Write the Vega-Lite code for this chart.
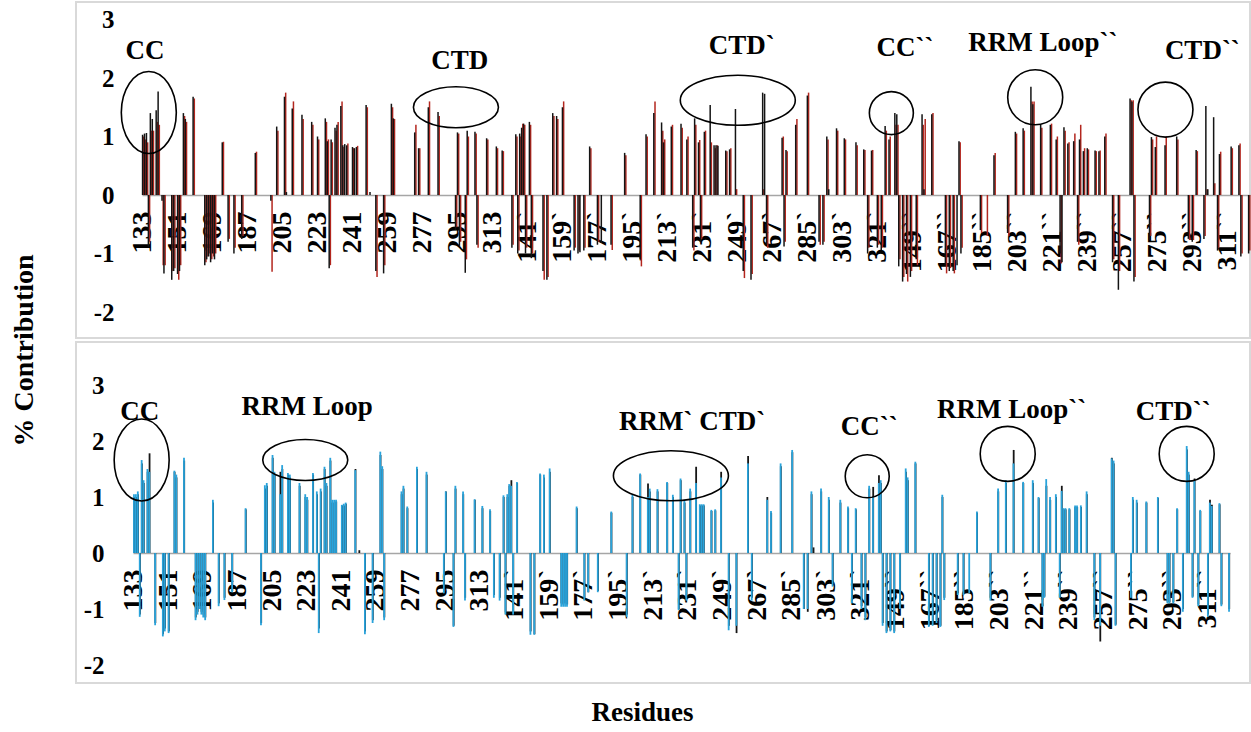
{
"$schema":"https://vega.github.io/schema/vega-lite/v6.json",
"padding":{"left":9,"top":1,"right":0,"bottom":0},
"background":"white",
"config":{"font":"Liberation Serif","view":{"stroke":"#d9d9d9","strokeWidth":2},"axis":{"grid":false,"ticks":false,"tickSize":0,"labelColor":"black","labelFontWeight":"bold","titleColor":"black","titleFontWeight":"bold","zindex":1}},
"datasets":{
"res":[
{"r":"133","k":1.03,"e":1.0,"b":1.05,"c":1.0},{"r":"134","k":1.05,"e":0.95,"b":1.05,"c":1.0},{"r":"135","k":1.06,"e":0.9,"b":1.1,"c":1.05},{"r":"136","k":-0.88,"e":-0.8,"b":-1.14,"c":-1.1},{"r":"137","k":1.4,"e":1.1,"b":1.66,"c":1.6},{"r":"138","k":1.3,"e":1.1,"b":1.3,"c":1.25},{"r":"140","k":1.45,"e":1.25,"b":1.5,"c":1.45},{"r":"141","k":1.77,"e":1.2,"b":1.45,"c":1.78},{"r":"143","k":-0.1,"e":-1.2},{"r":"144","k":-1.34,"e":-1.2,"b":-1.29,"c":-1.25},{"r":"148","k":-1.45,"e":-1.3,"b":-1.49,"c":-1.45},{"r":"149","k":-1.3,"e":-1.25,"b":-1.4,"c":-1.35},{"r":"151","k":-1.35,"e":-1.45,"b":-1.43,"c":-1.4},{"r":"152","k":-1.3,"e":-1.2},{"r":"154","k":1.4,"e":1.35,"b":1.47,"c":1.45},{"r":"155","k":1.3,"e":1.25,"b":1.4,"c":1.35},{"r":"159","k":1.68,"e":1.65,"b":1.7,"c":1.65},{"r":"165","k":-1.2,"e":-1.15,"b":-1.2,"c":-1.15},{"r":"166","k":-1.1,"e":-1.05,"b":-1.1,"c":-1.05},{"r":"167","k":-1.05,"e":-1.0,"b":-1.0,"c":-1.0},{"r":"168","k":-1.15,"e":-1.1,"b":-1.1,"c":-1.05},{"r":"169","k":-1.0,"e":-1.05,"b":-1.15,"c":-1.1},{"r":"170","k":-1.1,"e":-1.0,"b":-1.2,"c":-1.15},{"r":"174","k":0.9,"e":0.91,"b":0.95,"c":0.9},{"r":"177","k":-0.8,"e":-0.75,"b":-0.95,"c":-0.9},{"r":"180","k":-1.0,"e":-0.9,"b":-0.84,"c":-0.8},{"r":"184","k":-0.75,"e":-0.7,"b":-0.7,"c":-0.68},{"r":"191","k":0.72,"e":0.74,"b":0.8,"c":0.78},{"r":"199","k":-0.1,"e":-1.31,"b":-1.29,"c":-1.25},{"r":"201","b":1.21,"c":1.15},{"r":"202","k":1.17,"e":1.1,"b":1.25,"c":1.2},{"r":"205","b":1.75,"c":1.7},{"r":"206","k":1.68,"e":1.75,"b":1.45,"c":1.4},{"r":"207","k":0.05},{"r":"209","b":1.05,"c":1.45},{"r":"210","k":1.48,"e":1.6,"b":1.57,"c":1.5},{"r":"213","b":1.43,"c":1.4},{"r":"214","b":1.4,"c":1.35},{"r":"215","k":1.37,"e":1.3},{"r":"219","b":1.25,"c":1.2},{"r":"220","k":1.25,"e":1.2},{"r":"222","b":1.05,"c":1.0},{"r":"223","k":1.0,"e":0.95,"b":1.0,"c":0.95},{"r":"226","b":1.43,"c":1.4},{"r":"227","k":1.31,"e":1.25},{"r":"228","k":0.92,"e":0.95,"b":1.1,"c":1.05},{"r":"229","k":-1.25,"e":-1.2,"b":-1.43,"c":-1.35},{"r":"230","k":0.95,"e":0.9,"b":1.15,"c":1.1},{"r":"232","k":1.15,"e":1.1,"b":1.54,"c":1.5},{"r":"233","k":1.2,"e":1.25,"b":1.25,"c":1.2},{"r":"235","k":1.52,"e":1.6,"b":1.7,"c":1.65},{"r":"236","k":0.85,"e":0.82,"b":0.95,"c":0.9},{"r":"237","k":0.87,"b":0.95,"c":0.9},{"r":"238","k":0.85,"e":0.88,"b":0.95,"c":0.92},{"r":"241","k":0.82,"e":0.8,"b":0.86,"c":0.85},{"r":"242","k":0.8,"b":0.88,"c":0.85},{"r":"243","k":0.82,"e":0.84,"b":0.9,"c":0.88},{"r":"248","k":1.54,"e":1.5,"b":1.48,"c":1.5},{"r":"250","k":0.05,"c":0.05},{"r":"253","k":-1.3,"e":-1.4,"b":-1.45,"c":-1.4},{"r":"257","k":-1.34,"e":-1.2,"b":-1.25,"c":-1.2},{"r":"261","k":1.56,"e":1.5,"b":1.81,"c":1.75},{"r":"262","k":1.31,"e":1.3,"b":1.55,"c":1.5},{"r":"263","b":-1.2,"c":-1.15},{"r":"272","b":1.1,"c":1.05},{"r":"273","k":1.07,"e":1.2,"b":1.2,"c":1.15},{"r":"275","k":0.8,"e":0.8,"b":0.83,"c":0.8},{"r":"280","k":1.5,"e":1.6,"b":1.54,"c":1.5},{"r":"285","k":1.42,"e":1.35,"b":1.45,"c":1.4},{"r":"294","k":-0.6,"e":-0.55,"b":-0.72,"c":-0.7},{"r":"295","k":1.07,"e":1.05,"b":1.1,"c":1.1},{"r":"296","k":-0.87,"e":-0.8},{"r":"299","k":-1.33,"e":-1.1,"b":-1.32,"c":-1.3},{"r":"300","k":1.1,"e":1.0,"b":1.2,"c":1.15},{"r":"304","k":1.08,"e":1.05,"b":1.1,"c":1.05},{"r":"305","k":-0.85,"e":-0.9,"b":-0.85,"c":-0.8},{"r":"310","k":0.97,"e":0.95,"b":0.96,"c":0.95},{"r":"314","b":0.84,"c":0.8},{"r":"315","k":0.83,"e":0.8},{"r":"318","k":0.76,"e":0.75,"b":0.78,"c":0.75},{"r":"320","b":-0.8,"c":-0.75},
{"r":"133`","k":-0.9,"e":-0.85,"b":-0.85,"c":-0.8},{"r":"135`","k":1.04,"e":1.0,"b":1.03,"c":1.0},{"r":"136`","k":-1.0,"e":-0.95,"b":-1.1,"c":-1.05},{"r":"137`","k":1.05,"e":1.0,"b":1.05,"c":1.0},{"r":"138`","k":1.15,"e":1.22,"b":1.23,"c":1.2},{"r":"139`","k":1.22,"e":1.2,"b":1.2,"c":1.3},{"r":"140`","k":-1.0,"e":-0.9,"b":-1.1,"c":-1.05},{"r":"142`","k":1.25,"e":1.2,"b":1.27,"c":1.25},{"r":"143`","k":-1.08,"e":-1.0},{"r":"149`","k":-1.3,"e":-1.45,"b":-1.46,"c":-1.4},{"r":"151`","k":-1.45,"e":-1.4,"b":-1.46,"c":-1.45},{"r":"154`","k":1.4,"e":1.35,"b":1.42,"c":1.4},{"r":"156`","k":1.35,"e":1.3,"b":1.4,"c":1.35},{"r":"159`","k":1.5,"e":1.6,"b":1.51,"c":1.45},{"r":"165`","k":-0.95,"e":-0.9,"b":-0.96,"c":-0.9},{"r":"166`","b":-0.96,"c":-0.92},{"r":"167`","k":-1.0,"e":-0.95,"b":-0.96,"c":-0.9},{"r":"168`","k":-0.98,"b":-0.96,"c":-0.92},{"r":"170`","k":-0.95,"e":-0.9},{"r":"173`","k":0.83,"e":0.8,"b":0.83,"c":0.8},{"r":"177`","k":-0.85,"e":-0.8,"b":-0.85,"c":-0.8},{"r":"179`","k":-0.82,"b":-0.7,"c":-0.7},{"r":"184`","k":-0.85,"e":-0.94,"b":-0.7,"c":-0.68},{"r":"191`","k":0.72,"e":0.68,"b":0.74,"c":0.72},{"r":"199`","k":-1.1,"e":-1.22,"b":-1.14,"c":-1.1},{"r":"202`","k":1.04,"e":1.0,"b":1.04,"c":1.0},{"r":"206`","k":1.4,"e":1.6,"b":1.42,"c":1.4},{"r":"210`","k":1.24,"e":1.1,"b":1.0,"c":1.24},{"r":"211`","k":0.9,"e":0.95,"b":1.15,"c":1.1},{"r":"215`","k":1.17,"e":1.2,"b":1.14,"c":1.1},{"r":"220`","k":1.22,"e":1.15,"b":1.27,"c":1.25},{"r":"223`","k":0.95,"e":1.0,"b":1.04,"c":1.0},{"r":"226`","k":-0.9,"e":-0.95,"b":-1.02,"c":-1.0},{"r":"227`","k":1.31,"e":1.2,"b":1.33,"c":1.3},{"r":"229`","k":0.9,"e":0.94,"b":0.95,"c":0.9},{"r":"230`","k":-0.8,"e":-0.75,"b":-0.85,"c":-0.8},{"r":"232`","k":1.08,"e":1.1,"b":1.15,"c":1.1},{"r":"235`","k":1.54,"e":0.9,"b":1.25,"c":1.54},{"r":"237`","k":0.85,"e":0.8,"b":0.87,"c":0.85},{"r":"238`","k":0.85,"e":0.85,"b":0.87,"c":0.85},{"r":"239`","k":0.84,"b":0.87,"c":0.85},{"r":"243`","k":0.76,"e":0.75,"b":0.77,"c":0.75},{"r":"245`","k":0.78,"e":0.8,"b":0.78,"c":0.76},{"r":"248`","k":1.47,"e":0.1,"b":1.35,"c":1.45},{"r":"252`","k":-1.3,"e":-1.42,"b":-1.38,"c":-1.3},{"r":"256`","k":-1.45,"e":-1.35,"b":-1.3,"c":-1.43},{"r":"262`","k":1.75,"e":0.1,"b":1.6,"c":1.73},{"r":"263`","k":1.73},{"r":"264`","k":-0.85,"e":-0.9,"b":-0.85,"c":-0.8},{"r":"272`","k":0.98,"e":1.0,"b":0.95,"c":1.0},{"r":"273`","k":-0.88,"e":-0.8},{"r":"274`","k":0.77,"e":0.75,"b":0.75,"c":0.72},{"r":"279`","k":1.2,"e":1.3,"b":1.6,"c":1.55},{"r":"285`","k":1.7,"e":1.75,"b":1.84,"c":1.8},{"r":"291`","k":-0.8,"e":-0.85,"b":-1.0,"c":-1.0},{"r":"293`","k":-0.85,"e":-0.8,"b":-1.0,"c":-1.05},{"r":"295`","k":1.0,"e":0.95,"b":1.1,"c":1.05},{"r":"296`","k":0.1,"c":0.1},{"r":"300`","k":1.14,"e":1.1,"b":1.15,"c":1.1},{"r":"304`","k":0.97,"e":0.95,"b":1.0,"c":0.95},{"r":"306`","b":-0.6,"c":-0.55},{"r":"310`","k":0.9,"e":0.85,"b":0.95,"c":0.9},{"r":"314`","k":0.78,"e":0.77,"b":0.83,"c":0.8},{"r":"316`","k":-1.0,"e":-0.9,"b":-0.9,"c":-0.85},{"r":"318`","k":0.76,"e":0.77,"b":0.8,"c":0.78},{"r":"321`","k":-0.9,"e":-0.85,"b":-1.0,"c":-0.95},
{"r":"133``","k":-0.94,"e":-0.9,"b":-1.2,"c":-1.15},{"r":"135``","k":1.18,"e":1.1,"b":1.2,"c":1.15},{"r":"137``","k":0.95,"e":1.0,"b":1.0,"c":1.18},{"r":"140``","k":1.4,"e":1.2,"b":1.25,"c":1.39},{"r":"141``","k":1.38,"e":1.2,"b":1.3,"c":1.25},{"r":"142``","k":-1.22,"e":-1.1,"b":-1.3,"c":-1.25},{"r":"144``","k":-1.48,"e":-1.4,"b":-1.43,"c":-1.4},{"r":"146``","k":-1.35,"e":-1.48,"b":-1.4,"c":-1.38},{"r":"148``","k":-1.4,"e":-1.3,"b":-1.43,"c":-1.4},{"r":"151``","k":-1.1,"e":-1.2,"b":-1.0,"c":-0.95},{"r":"154``","k":1.38,"e":1.2,"b":1.51,"c":1.45},{"r":"155``","k":0.1,"e":1.3,"b":1.35,"c":1.3},{"r":"159``","k":1.38,"e":1.4,"b":1.63,"c":1.6},{"r":"166``","k":-1.2,"e":-1.34,"b":-1.32,"c":-1.3},{"r":"168``","k":-1.3,"e":-1.25,"b":-1.3,"c":-1.28},{"r":"170``","k":-1.3,"e":-1.34,"b":-1.25,"c":-1.2},{"r":"172``","k":-1.2,"b":-1.32,"c":-1.3},{"r":"173``","k":0.92,"e":0.9,"b":1.04,"c":1.0},{"r":"174``","k":-1.0,"e":-0.9,"b":-0.84,"c":-0.8},{"r":"181``","b":-0.75,"c":-0.72},{"r":"184``","k":-0.6,"e":-0.65,"b":-0.75,"c":-0.72},{"r":"187``","e":-0.7,"b":-0.72},{"r":"191``","k":0.68,"e":0.72,"b":0.74,"c":0.72},{"r":"198``","k":-0.65,"e":-0.7,"b":-0.85,"c":-0.8},{"r":"202``","k":1.08,"e":1.05,"b":1.15,"c":1.1},{"r":"206``","k":1.14,"e":1.1,"b":1.3,"c":1.25},{"r":"210``","k":1.85,"e":1.6,"b":1.6,"c":1.84},{"r":"211``","k":1.55,"e":1.6},{"r":"215``","k":1.2,"e":1.15,"b":1.27,"c":1.25},{"r":"220``","k":1.2,"e":1.22,"b":1.3,"c":1.25},{"r":"223``","k":0.95,"e":1.0,"b":1.0,"c":0.98},{"r":"225``","k":-1.0,"e":-1.17,"b":-0.96,"c":-0.95},{"r":"226``","k":-1.15,"b":-0.8,"c":-0.78},{"r":"227``","k":1.16,"e":1.1,"b":1.32,"c":1.2},{"r":"229``","k":0.88,"e":0.9,"b":1.0,"c":0.95},{"r":"232``","k":0.92,"e":1.05,"b":1.05,"c":1.0},{"r":"234``","k":-0.8,"e":-0.85,"b":-0.8,"c":-0.78},{"r":"235``","k":0.95,"e":1.2,"b":1.11,"c":1.2},{"r":"236``","b":0.8,"c":0.78},{"r":"237``","k":0.75,"e":0.8,"b":0.8,"c":0.78},{"r":"239``","k":0.8,"e":0.78,"b":0.8,"c":0.78},{"r":"242``","b":0.85,"c":0.82},{"r":"243``","k":0.76,"e":0.75,"b":0.85,"c":0.82},{"r":"245``","k":0.75,"e":0.76,"b":0.85,"c":0.82},{"r":"248``","k":1.0,"e":1.05,"b":1.1,"c":1.05},{"r":"252``","k":-1.15,"e":-1.1,"b":-1.2,"c":-1.15},{"r":"255``","k":-1.62,"e":-1.3,"b":-1.3,"c":-1.58},{"r":"261``","k":1.65,"e":1.62,"b":1.69,"c":1.7},{"r":"262``","k":1.6,"e":1.62,"b":1.65,"c":1.6},{"r":"263``","k":-1.48,"e":-1.4,"b":-1.3,"c":-1.28},{"r":"271``","k":-0.77,"e":-0.7,"b":-0.8,"c":-0.78},{"r":"272``","k":0.99,"e":0.95,"b":1.0,"c":0.95},{"r":"274``","k":0.82,"e":1.0,"b":0.95,"c":0.9},{"r":"279``","k":0.85,"e":1.0,"b":0.92,"c":0.9},{"r":"285``","k":1.0,"e":0.95,"b":1.0,"c":0.98},{"r":"290``","b":-0.9,"c":-0.88},{"r":"291``","k":-0.75,"e":-0.77,"b":-0.9,"c":-0.88},{"r":"293``","k":-0.8,"e":-0.77,"b":-0.9,"c":-0.88},{"r":"295``","k":0.77,"e":0.75,"b":0.8,"c":0.78},{"r":"298``","b":-1.05,"c":-1.0},{"r":"299``","k":-0.75,"e":-0.7},{"r":"300``","k":1.52,"e":0.1,"b":1.91,"c":1.85},{"r":"301``","k":0.1,"b":1.45,"c":1.4},{"r":"303``","b":-0.8,"c":-0.78},{"r":"304``","k":1.33,"e":0.2,"b":1.3,"c":1.33},{"r":"306``","k":-0.95,"e":-0.9,"b":-0.95,"c":-0.92},{"r":"307``","k":0.7,"e":0.74,"b":0.77,"c":0.75},{"r":"311``","b":-1.14,"c":-1.1},{"r":"312``","b":0.9,"c":0.95},{"r":"313``","k":0.83,"e":0.8,"b":0.84,"c":0.86},{"r":"317``","k":0.85,"e":0.88,"b":0.89,"c":0.87},{"r":"318``","k":-1.05,"e":-1.0,"b":-0.95,"c":-0.92},{"r":"322``","k":-1.0,"e":-0.95,"b":-1.05,"c":-1.0}
],
"notes":[
{"p":"top","t":"CC","r":"134","v":2.46},{"p":"top","t":"CTD","r":"296","v":2.29},{"p":"top","t":"CTD`","r":"251`","v":2.55},{"p":"top","t":"CC``","r":"145``","v":2.51},{"p":"top","t":"RRM Loop``","r":"216``","v":2.6},{"p":"top","t":"CTD``","r":"298``","v":2.46},
{"p":"bot","t":"CC","r":"136","v":2.52},{"p":"bot","t":"RRM Loop","r":"223","v":2.6},{"p":"bot","t":"RRM` CTD`","r":"233`","v":2.34},{"p":"bot","t":"CC``","r":"135``","v":2.25},{"p":"bot","t":"RRM Loop``","r":"209``","v":2.55},{"p":"bot","t":"CTD``","r":"293``","v":2.52}
],
"rings":[
{"p":"top","id":"t1","r":"136","v":1.41},{"p":"top","id":"t2","r":"294","v":1.5},{"p":"top","id":"t3","r":"249`","v":1.62},{"p":"top","id":"t4","r":"138``","v":1.4},{"p":"top","id":"t5","r":"212``","v":1.67},{"p":"top","id":"t6","r":"279``","v":1.46},
{"p":"bot","id":"b1","r":"137","v":1.66},{"p":"bot","id":"b2","r":"222","v":1.66},{"p":"bot","id":"b3","r":"222`","v":1.38},{"p":"bot","id":"b4","r":"134``","v":1.37},{"p":"bot","id":"b5","r":"207``","v":1.77},{"p":"bot","id":"b6","r":"300``","v":1.77}
]
},
"spacing":4,
"bounds":"flush",
"vconcat":[
{
"width":1174,"height":336,
"data":{"name":"res"},
"encoding":{"x":{"field":"r","type":"nominal","scale":{"domain":["133","134","135","136","137","138","139","140","141","142","143","144","145","146","147","148","149","150","151","152","153","154","155","156","157","158","159","160","161","162","163","164","165","166","167","168","169","170","171","172","173","174","175","176","177","178","179","180","181","182","183","184","185","186","187","188","189","190","191","192","193","194","195","196","197","198","199","200","201","202","203","204","205","206","207","208","209","210","211","212","213","214","215","216","217","218","219","220","221","222","223","224","225","226","227","228","229","230","231","232","233","234","235","236","237","238","239","240","241","242","243","244","245","246","247","248","249","250","251","252","253","254","255","256","257","258","259","260","261","262","263","264","265","266","267","268","269","270","271","272","273","274","275","276","277","278","279","280","281","282","283","284","285","286","287","288","289","290","291","292","293","294","295","296","297","298","299","300","301","302","303","304","305","306","307","308","309","310","311","312","313","314","315","316","317","318","319","320","321","322","133`","134`","135`","136`","137`","138`","139`","140`","141`","142`","143`","144`","145`","146`","147`","148`","149`","150`","151`","152`","153`","154`","155`","156`","157`","158`","159`","160`","161`","162`","163`","164`","165`","166`","167`","168`","169`","170`","171`","172`","173`","174`","175`","176`","177`","178`","179`","180`","181`","182`","183`","184`","185`","186`","187`","188`","189`","190`","191`","192`","193`","194`","195`","196`","197`","198`","199`","200`","201`","202`","203`","204`","205`","206`","207`","208`","209`","210`","211`","212`","213`","214`","215`","216`","217`","218`","219`","220`","221`","222`","223`","224`","225`","226`","227`","228`","229`","230`","231`","232`","233`","234`","235`","236`","237`","238`","239`","240`","241`","242`","243`","244`","245`","246`","247`","248`","249`","250`","251`","252`","253`","254`","255`","256`","257`","258`","259`","260`","261`","262`","263`","264`","265`","266`","267`","268`","269`","270`","271`","272`","273`","274`","275`","276`","277`","278`","279`","280`","281`","282`","283`","284`","285`","286`","287`","288`","289`","290`","291`","292`","293`","294`","295`","296`","297`","298`","299`","300`","301`","302`","303`","304`","305`","306`","307`","308`","309`","310`","311`","312`","313`","314`","315`","316`","317`","318`","319`","320`","321`","322`","133``","134``","135``","136``","137``","138``","139``","140``","141``","142``","143``","144``","145``","146``","147``","148``","149``","150``","151``","152``","153``","154``","155``","156``","157``","158``","159``","160``","161``","162``","163``","164``","165``","166``","167``","168``","169``","170``","171``","172``","173``","174``","175``","176``","177``","178``","179``","180``","181``","182``","183``","184``","185``","186``","187``","188``","189``","190``","191``","192``","193``","194``","195``","196``","197``","198``","199``","200``","201``","202``","203``","204``","205``","206``","207``","208``","209``","210``","211``","212``","213``","214``","215``","216``","217``","218``","219``","220``","221``","222``","223``","224``","225``","226``","227``","228``","229``","230``","231``","232``","233``","234``","235``","236``","237``","238``","239``","240``","241``","242``","243``","244``","245``","246``","247``","248``","249``","250``","251``","252``","253``","254``","255``","256``","257``","258``","259``","260``","261``","262``","263``","264``","265``","266``","267``","268``","269``","270``","271``","272``","273``","274``","275``","276``","277``","278``","279``","280``","281``","282``","283``","284``","285``","286``","287``","288``","289``","290``","291``","292``","293``","294``","295``","296``","297``","298``","299``","300``","301``","302``","303``","304``","305``","306``","307``","308``","309``","310``","311``","312``","313``","314``","315``","316``","317``","318``","319``","320``","321``","322``"],"range":[66,1174],"paddingInner":0,"paddingOuter":0},
"axis":{"values":["133","151","169","187","205","223","241","259","277","295","313","141`","159`","177`","195`","213`","231`","249`","267`","285`","303`","321`","149``","167``","185``","203``","221``","239``","257``","275``","293``","311``"],"labelAngle":-90,"labelFontSize":28,"labelPadding":16,"offset":-143,"domainColor":"#a6a6a6","domainWidth":1.5,"title":null,"labelOverlap":false,"labelBound":false,"labelFlush":false}},
"y":{"type":"quantitative","scale":{"domain":[-2,3],"range":[310,17.5],"nice":false},
  "axis":{"values":[-2,-1,0,1,2,3],"labelExpr":"'' + datum.value","labelFontSize":25,"labelPadding":2,"offset":-40,"domain":false,"title":"% Contribution","titleFontSize":28,"titleX":-92,"titleY":348,"titleAngle":270,"titleAlign":"center","titleBaseline":"middle"}}},
"layer":[
{"mark":{"type":"bar","width":1.5,"xOffset":0.8,"color":"#b3261e"},
 "encoding":{"y":{"field":"e"}}},
{"mark":{"type":"bar","width":1.5,"xOffset":-0.4,"color":"#141414"},
 "encoding":{"y":{"field":"k"}}},
{"data":{"name":"rings"},"transform":[{"filter":"datum.p == 'top'"}],
 "mark":{"type":"point","filled":false,"size":4,"color":"black","strokeWidth":1.6,"opacity":1},
 "encoding":{"y":{"field":"v"},
  "shape":{"field":"id","type":"nominal","legend":null,"scale":{"domain":["t1","t2","t3","t4","t5","t6"],"range":[
   "M27.5,0C27.5,22.64,15.19,41,0,41C-15.19,41,-27.5,22.64,-27.5,0C-27.5,-22.64,-15.19,-41,0,-41C15.19,-41,27.5,-22.64,27.5,0Z",
   "M42.5,0C42.5,11.32,23.47,20.5,0,20.5C-23.47,20.5,-42.5,11.32,-42.5,0C-42.5,-11.32,-23.47,-20.5,0,-20.5C23.47,-20.5,42.5,-11.32,42.5,0Z",
   "M57.5,0C57.5,13.81,31.76,25,0,25C-31.76,25,-57.5,13.81,-57.5,0C-57.5,-13.81,-31.76,-25,0,-25C31.76,-25,57.5,-13.81,57.5,0Z",
   "M22,0C22,11.87,12.15,21.5,0,21.5C-12.15,21.5,-22,11.87,-22,0C-22,-11.87,-12.15,-21.5,0,-21.5C12.15,-21.5,22,-11.87,22,0Z",
   "M27.5,0C27.5,15.19,15.19,27.5,0,27.5C-15.19,27.5,-27.5,15.19,-27.5,0C-27.5,-15.19,-15.19,-27.5,0,-27.5C15.19,-27.5,27.5,-15.19,27.5,0Z",
   "M27.5,0C27.5,15.19,15.19,27.5,0,27.5C-15.19,27.5,-27.5,15.19,-27.5,0C-27.5,-15.19,-15.19,-27.5,0,-27.5C15.19,-27.5,27.5,-15.19,27.5,0Z"]}}}},
{"data":{"name":"notes"},"transform":[{"filter":"datum.p == 'top'"}],
 "mark":{"type":"text","fontSize":27,"fontWeight":"bold","color":"black","align":"center","baseline":"middle"},
 "encoding":{"y":{"field":"v"},"text":{"field":"t"}}}
]
},
{
"width":1174,"height":341,
"data":{"name":"res"},
"encoding":{"x":{"field":"r","type":"nominal","scale":{"domain":["133","134","135","136","137","138","139","140","141","142","143","144","145","146","147","148","149","150","151","152","153","154","155","156","157","158","159","160","161","162","163","164","165","166","167","168","169","170","171","172","173","174","175","176","177","178","179","180","181","182","183","184","185","186","187","188","189","190","191","192","193","194","195","196","197","198","199","200","201","202","203","204","205","206","207","208","209","210","211","212","213","214","215","216","217","218","219","220","221","222","223","224","225","226","227","228","229","230","231","232","233","234","235","236","237","238","239","240","241","242","243","244","245","246","247","248","249","250","251","252","253","254","255","256","257","258","259","260","261","262","263","264","265","266","267","268","269","270","271","272","273","274","275","276","277","278","279","280","281","282","283","284","285","286","287","288","289","290","291","292","293","294","295","296","297","298","299","300","301","302","303","304","305","306","307","308","309","310","311","312","313","314","315","316","317","318","319","320","321","322","133`","134`","135`","136`","137`","138`","139`","140`","141`","142`","143`","144`","145`","146`","147`","148`","149`","150`","151`","152`","153`","154`","155`","156`","157`","158`","159`","160`","161`","162`","163`","164`","165`","166`","167`","168`","169`","170`","171`","172`","173`","174`","175`","176`","177`","178`","179`","180`","181`","182`","183`","184`","185`","186`","187`","188`","189`","190`","191`","192`","193`","194`","195`","196`","197`","198`","199`","200`","201`","202`","203`","204`","205`","206`","207`","208`","209`","210`","211`","212`","213`","214`","215`","216`","217`","218`","219`","220`","221`","222`","223`","224`","225`","226`","227`","228`","229`","230`","231`","232`","233`","234`","235`","236`","237`","238`","239`","240`","241`","242`","243`","244`","245`","246`","247`","248`","249`","250`","251`","252`","253`","254`","255`","256`","257`","258`","259`","260`","261`","262`","263`","264`","265`","266`","267`","268`","269`","270`","271`","272`","273`","274`","275`","276`","277`","278`","279`","280`","281`","282`","283`","284`","285`","286`","287`","288`","289`","290`","291`","292`","293`","294`","295`","296`","297`","298`","299`","300`","301`","302`","303`","304`","305`","306`","307`","308`","309`","310`","311`","312`","313`","314`","315`","316`","317`","318`","319`","320`","321`","322`","133``","134``","135``","136``","137``","138``","139``","140``","141``","142``","143``","144``","145``","146``","147``","148``","149``","150``","151``","152``","153``","154``","155``","156``","157``","158``","159``","160``","161``","162``","163``","164``","165``","166``","167``","168``","169``","170``","171``","172``","173``","174``","175``","176``","177``","178``","179``","180``","181``","182``","183``","184``","185``","186``","187``","188``","189``","190``","191``","192``","193``","194``","195``","196``","197``","198``","199``","200``","201``","202``","203``","204``","205``","206``","207``","208``","209``","210``","211``","212``","213``","214``","215``","216``","217``","218``","219``","220``","221``","222``","223``","224``","225``","226``","227``","228``","229``","230``","231``","232``","233``","234``","235``","236``","237``","238``","239``","240``","241``","242``","243``","244``","245``","246``","247``","248``","249``","250``","251``","252``","253``","254``","255``","256``","257``","258``","259``","260``","261``","262``","263``","264``","265``","266``","267``","268``","269``","270``","271``","272``","273``","274``","275``","276``","277``","278``","279``","280``","281``","282``","283``","284``","285``","286``","287``","288``","289``","290``","291``","292``","293``","294``","295``","296``","297``","298``","299``","300``","301``","302``","303``","304``","305``","306``","307``","308``","309``","310``","311``","312``","313``","314``","315``","316``","317``","318``","319``","320``","321``","322``"],"range":[57,1154],"paddingInner":0,"paddingOuter":0},
"axis":{"values":["133","151","169","187","205","223","241","259","277","295","313","141`","159`","177`","195`","213`","231`","249`","267`","285`","303`","321`","149``","167``","185``","203``","221``","239``","257``","275``","293``","311``"],"labelAngle":-90,"labelFontSize":28,"labelPadding":16,"offset":-130,"domainColor":"#a6a6a6","domainWidth":1.5,"labelOverlap":false,"labelBound":false,"labelFlush":false,"title":"Residues","titleFontSize":27,"titleX":566,"titleY":159,"titleAngle":0,"titleAlign":"center","titleBaseline":"middle"}},
"y":{"type":"quantitative","scale":{"domain":[-2,3],"range":[323,43],"nice":false},
  "axis":{"values":[-2,-1,0,1,2,3],"labelExpr":"'' + datum.value","labelFontSize":25,"labelPadding":2,"offset":-30,"domain":false,"title":null}}},
"layer":[
{"mark":{"type":"bar","width":1.8,"xOffset":0.2,"color":"#161616"},
 "encoding":{"y":{"field":"c"}}},
{"mark":{"type":"bar","width":1.8,"xOffset":0,"color":"#29a3db"},
 "encoding":{"y":{"field":"b"}}},
{"data":{"name":"rings"},"transform":[{"filter":"datum.p == 'bot'"}],
 "mark":{"type":"point","filled":false,"size":4,"color":"black","strokeWidth":1.6,"opacity":1},
 "encoding":{"y":{"field":"v"},
  "shape":{"field":"id","type":"nominal","legend":null,"scale":{"domain":["b1","b2","b3","b4","b5","b6"],"range":[
   "M21,0C21,16.57,11.6,30,0,30C-11.6,30,-21,16.57,-21,0C-21,-16.57,-11.6,-30,0,-30C11.6,-30,21,-16.57,21,0Z",
   "M57.5,0C57.5,12.15,31.76,22,0,22C-31.76,22,-57.5,12.15,-57.5,0C-57.5,-12.15,-31.76,-22,0,-22C31.76,-22,57.5,-12.15,57.5,0Z",
   "M58.5,0C58.5,9.67,32.31,17.5,0,17.5C-32.31,17.5,-58.5,9.67,-58.5,0C-58.5,-9.67,-32.31,-17.5,0,-17.5C32.31,-17.5,58.5,-9.67,58.5,0Z",
   "M21,0C21,11.32,11.6,20.5,0,20.5C-11.6,20.5,-21,11.32,-21,0C-21,-11.32,-11.6,-20.5,0,-20.5C11.6,-20.5,21,-11.32,21,0Z",
   "M21,0C21,12.15,11.6,22,0,22C-11.6,22,-21,12.15,-21,0C-21,-12.15,-11.6,-22,0,-22C11.6,-22,21,-12.15,21,0Z",
   "M21.5,0C21.5,12.15,11.87,22,0,22C-11.87,22,-21.5,12.15,-21.5,0C-21.5,-12.15,-11.87,-22,0,-22C11.87,-22,21.5,-12.15,21.5,0Z"]}}}},
{"data":{"name":"notes"},"transform":[{"filter":"datum.p == 'bot'"}],
 "mark":{"type":"text","fontSize":27,"fontWeight":"bold","color":"black","align":"center","baseline":"middle"},
 "encoding":{"y":{"field":"v"},"text":{"field":"t"}}}
]
}
]
}
